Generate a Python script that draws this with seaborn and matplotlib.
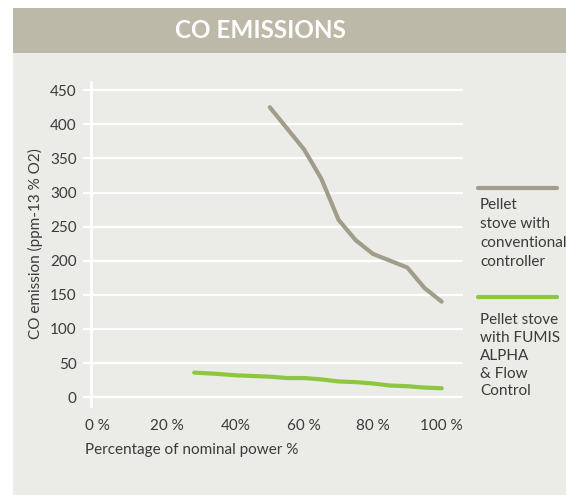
import pandas as pd
import matplotlib.pyplot as plt
import seaborn as sns
from matplotlib.patches import Rectangle
from matplotlib.lines import Line2D

# data
conv_power = [50, 60, 65, 70, 75, 80, 85, 90, 95, 100]
conv_co = [425, 363, 320, 260, 230, 210, 200, 190, 160, 140]

fumis_power = [28, 35, 40, 45, 50, 55, 60, 65, 70, 75, 80, 85, 90, 95, 100]
fumis_co = [36, 34, 32, 31, 30, 28, 28, 26, 23, 22, 20, 17, 16, 14, 13]

xticks = [0, 20, 40, 60, 80, 100]
xtick_labels = ["0 %", "20 %", "40%", "60 %", "80 %", "100 %"]
yticks = [0, 50, 100, 150, 200, 250, 300, 350, 400, 450]

conv_name = "Pellet\nstove with\nconventional\ncontroller"
fumis_name = "Pellet stove\nwith FUMIS\nALPHA\n& Flow\nControl"

df = pd.concat([
    pd.DataFrame({'power': conv_power, 'co': conv_co, 'stove': 'conv'}),
    pd.DataFrame({'power': fumis_power, 'co': fumis_co, 'stove': 'fumis'}),
])

gray = "#a19d8b"
green = "#8dc63f"
panel = "#ebebe7"
band = "#bcb9a8"
txt = "#3a3a3a"

sns.set_style("white")
plt.rcParams['font.family'] = ['Lato', 'DejaVu Sans']

fig = plt.figure(figsize=(5.66, 4.95), dpi=100)
fig.patch.set_facecolor("white")
fig.patches.append(Rectangle((13 / 566, 0), 1, 1 - 53 / 495, transform=fig.transFigure,
                             facecolor=panel, edgecolor='none', zorder=-2))
fig.patches.append(Rectangle((13 / 566, 1 - 53 / 495), 1, 45 / 495, transform=fig.transFigure,
                             facecolor=band, edgecolor='none', zorder=-2))
fig.text(260 / 566, 1 - 31 / 495, "CO EMISSIONS", color="white", fontsize=17.5,
         fontweight='bold', ha='center', va='center')

ax = fig.add_axes([90.7 / 566, (495 - 406) / 495, (463 - 90.7) / 566, (406 - 82) / 495])
ax.set_facecolor(panel)

sns.lineplot(data=df, x='power', y='co', hue='stove', palette={'conv': gray, 'fumis': green},
             linewidth=3, legend=False, ax=ax)

ax.set_xlim(-2.1, 106.2)
ax.set_ylim(-13, 462)
ax.set_xticks(xticks)
ax.set_xticklabels(xtick_labels)
ax.set_yticks(yticks)
for v in yticks:
    ax.axhline(v, color='white', lw=1.6, zorder=0)

for s in ['top', 'right', 'bottom']:
    ax.spines[s].set_visible(False)
ax.spines['left'].set_color('white')
ax.spines['left'].set_linewidth(2)
ax.tick_params(axis='y', length=6, width=1.6, color='white', labelcolor=txt, labelsize=11, pad=4, left=True)
ax.tick_params(axis='x', length=0, labelcolor=txt, labelsize=11, pad=9)

ax.set_xlabel("Percentage of nominal power %", color=txt, fontsize=11, loc='left')
ax.set_ylabel("CO emission (ppm-13 % O2)", color=txt, fontsize=11, labelpad=5)
ax.xaxis.set_label_coords(-0.015, -0.115)

# legend to the right
fig.lines.append(Line2D([478 / 566, 557 / 566], [1 - 188 / 495] * 2, transform=fig.transFigure,
                        color=gray, lw=3))
fig.lines.append(Line2D([478 / 566, 557 / 566], [1 - 297 / 495] * 2, transform=fig.transFigure,
                        color=green, lw=3))
fig.text(480 / 566, 1 - 198 / 495, conv_name, color=txt, fontsize=11, va='top', ha='left',
         linespacing=1.45)
fig.text(480 / 566, 1 - 313 / 495, fumis_name, color=txt, fontsize=11, va='top', ha='left',
         linespacing=1.35)

plt.savefig("out.png", dpi=100)
